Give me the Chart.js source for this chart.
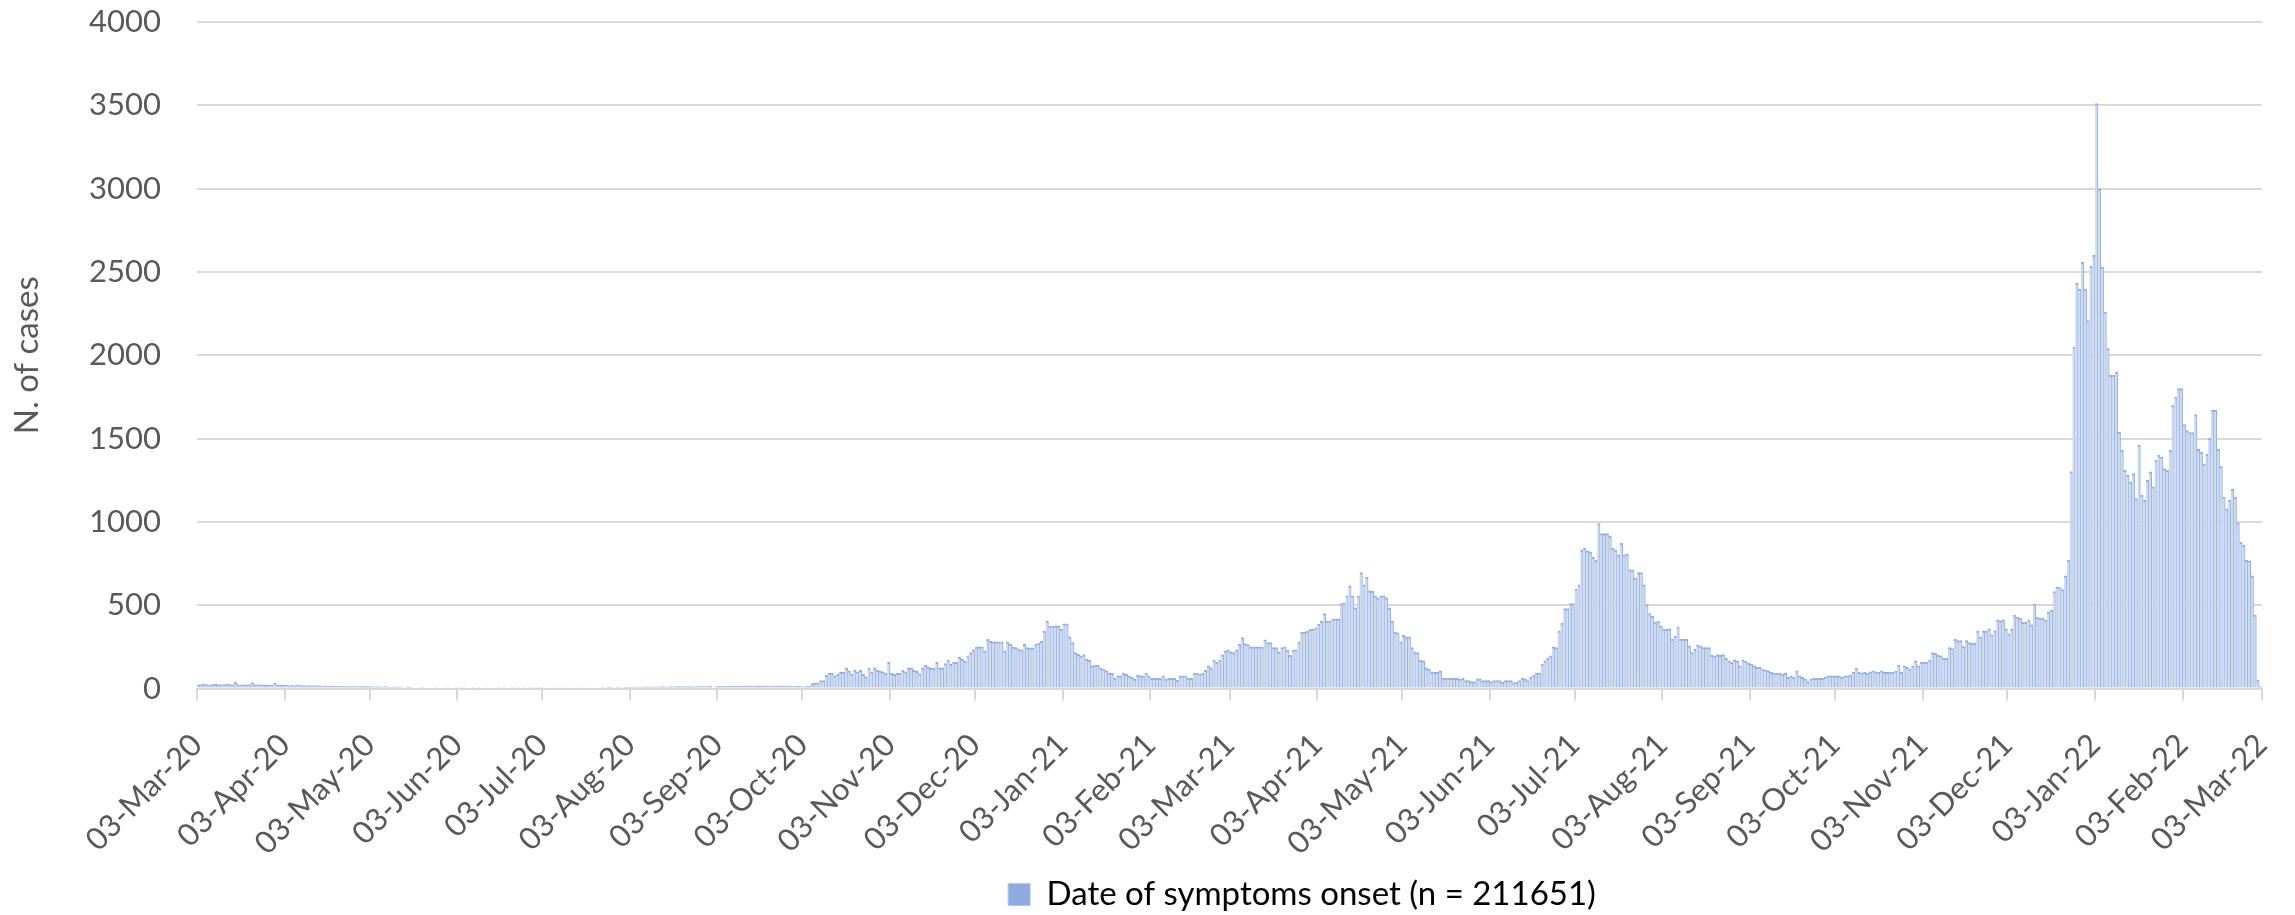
<!DOCTYPE html>
<html>
<head>
<meta charset="utf-8">
<title>Date of symptoms onset</title>
<script src="https://cdn.jsdelivr.net/npm/chart.js@4.4.1/dist/chart.umd.min.js"></script>
<style>
  html, body { margin: 0; padding: 0; background: #fff; }
  #wrap { width: 2295px; height: 915px; }
</style>
</head>
<body>
<div id="wrap"><canvas id="myChart" width="2295" height="915"></canvas></div>
<script>
// first day of the series (03-Mar-20)
const startDate = Date.UTC(2020, 2, 3);
const seriesLabel = 'Date of symptoms onset (n = 211651)';
const monthNames = ['Jan', 'Feb', 'Mar', 'Apr', 'May', 'Jun', 'Jul', 'Aug', 'Sep', 'Oct', 'Nov', 'Dec'];

// daily cases, one row per month (from the 3rd to the 2nd of next month)
const cases2020 = [
  22, 24, 25, 24, 22, 24, 25, 24, 22, 24, 25, 24, 22, 38, 24, 22, 24, 22, 24, 36, 22, 24, 22, 20, 22, 20, 22, 34, 20, 22, 20, // Mar
  20, 18, 20, 18, 20, 18, 18, 16, 18, 16, 18, 16, 16, 15, 16, 14, 16, 14, 15, 14, 14, 12, 14, 12, 14, 12, 12, 14, 12, 12, // Apr
  12, 10, 12, 10, 10, 12, 10, 8, 10, 8, 10, 8, 0, 10, 8, 6, 0, 6, 8, 6, 6, 0, 6, 4, 6, 0, 6, 4, 6, 0, 5, // May
  4, 0, 3, 0, 0, 4, 0, 2, 0, 0, 3, 0, 0, 0, 4, 0, 3, 0, 0, 4, 0, 4, 0, 3, 0, 4, 3, 0, 4, 3, // Jun
  6, 5, 6, 5, 6, 5, 6, 5, 6, 5, 6, 6, 5, 6, 5, 6, 6, 5, 6, 6, 6, 8, 6, 8, 8, 6, 8, 8, 6, 8, 8, // Jul
  8, 10, 8, 10, 8, 10, 10, 8, 10, 10, 10, 12, 10, 10, 12, 10, 12, 12, 10, 12, 12, 12, 10, 12, 12, 14, 12, 12, 14, 0, 12, // Aug
  14, 14, 12, 14, 14, 16, 14, 14, 16, 14, 16, 16, 14, 16, 16, 14, 16, 16, 14, 16, 14, 16, 16, 14, 16, 14, 12, 14, 14, 12, // Sep
  10, 14, 14, 30, 34, 34, 48, 48, 80, 93, 93, 77, 85, 97, 97, 125, 107, 87, 111, 101, 109, 85, 71, 125, 101, 125, 111, 105, 101, 91, 157, // Oct
  91, 85, 91, 91, 111, 101, 125, 125, 109, 103, 89, 125, 141, 130, 121, 121, 157, 125, 125, 150, 171, 145, 157, 157, 187, 175, 165, 196, 216, 232, // Nov
  248, 250, 250, 226, 296, 284, 280, 280, 280, 280, 226, 280, 266, 250, 246, 236, 232, 266, 246, 244, 244, 266, 272, 284, 343, 405, 375, 375, 375, 375, 355 // Dec
];
const cases2021 = [
  389, 389, 310, 276, 216, 206, 196, 202, 176, 171, 137, 141, 141, 121, 115, 107, 93, 93, 62, 77, 77, 93, 85, 77, 67, 57, 81, 77, 77, 93, 77, // Jan
  62, 62, 62, 62, 77, 57, 62, 62, 62, 50, 77, 77, 77, 62, 62, 93, 93, 87, 93, 109, 137, 125, 171, 157, 171, 202, 226, 232, // Feb
  220, 216, 232, 266, 306, 270, 264, 250, 250, 250, 250, 250, 292, 276, 276, 246, 246, 220, 246, 250, 230, 200, 232, 232, 280, 339, 339, 343, 355, 355, 365, // Mar
  387, 405, 450, 405, 405, 415, 419, 419, 510, 514, 557, 617, 557, 484, 557, 696, 623, 669, 587, 583, 557, 544, 557, 557, 544, 484, 405, 339, 335, 280, // Apr
  319, 311, 311, 246, 220, 216, 171, 167, 125, 117, 101, 97, 97, 107, 63, 62, 62, 62, 62, 62, 57, 62, 48, 48, 42, 42, 58, 58, 48, 48, 48, // May
  42, 48, 48, 48, 38, 48, 48, 48, 34, 38, 48, 62, 58, 48, 67, 81, 93, 93, 147, 167, 181, 196, 250, 246, 345, 391, 480, 480, 510, 510, // Jun
  597, 623, 831, 841, 827, 821, 788, 770, 990, 930, 930, 930, 915, 841, 831, 802, 871, 802, 808, 712, 712, 663, 696, 696, 623, 504, 450, 434, 399, 405, 375, // Jul
  359, 355, 359, 296, 315, 371, 296, 296, 296, 256, 216, 236, 262, 256, 246, 246, 246, 200, 196, 204, 200, 204, 181, 167, 157, 173, 167, 137, 173, 163, 153, // Aug
  147, 137, 127, 127, 117, 113, 107, 97, 93, 93, 93, 87, 93, 67, 77, 67, 107, 77, 67, 58, 42, 58, 62, 62, 62, 62, 67, 77, 77, 77, // Sep
  77, 77, 67, 77, 77, 81, 97, 121, 97, 93, 97, 93, 101, 107, 101, 97, 107, 97, 97, 97, 97, 107, 141, 97, 137, 127, 117, 137, 167, 137, 157, // Oct
  157, 157, 173, 216, 212, 200, 196, 181, 181, 246, 240, 296, 288, 288, 252, 288, 276, 271, 271, 347, 311, 347, 347, 358, 323, 347, 413, 406, 413, 358, // Nov
  328, 358, 441, 429, 422, 398, 398, 413, 382, 507, 429, 422, 422, 413, 460, 469, 582, 611, 606, 594, 677, 771, 1302, 2049, 2433, 2398, 2558, 2398, 2209, 2535, 2600 // Dec
];
const cases2022 = [
  3510, 3000, 2530, 2260, 2040, 1880, 1880, 1900, 1540, 1430, 1310, 1280, 1240, 1290, 1140, 1460, 1160, 1130, 1250, 1300, 1210, 1370, 1400, 1390, 1320, 1310, 1430, 1700, 1750, 1800, 1800, // Jan
  1585, 1549, 1537, 1537, 1644, 1436, 1420, 1349, 1408, 1502, 1672, 1672, 1436, 1332, 1148, 1078, 1130, 1195, 1148, 995, 877, 861, 771, 766, 677, 441, 52, 12 // Feb
];
const cases = [...cases2020, ...cases2021, ...cases2022];

const tickLabels = [
  '03-Mar-20', '03-Apr-20', '03-May-20', '03-Jun-20', '03-Jul-20', '03-Aug-20', '03-Sep-20',
  '03-Oct-20', '03-Nov-20', '03-Dec-20', '03-Jan-21', '03-Feb-21', '03-Mar-21', '03-Apr-21',
  '03-May-21', '03-Jun-21', '03-Jul-21', '03-Aug-21', '03-Sep-21', '03-Oct-21', '03-Nov-21',
  '03-Dec-21', '03-Jan-22', '03-Feb-22', '03-Mar-22'
];
const yMax = 4000;
const yStep = 500;

// day offset of a '03-Mar-20' style label from the start date
function labelToDay(lbl) {
  const [dd, mon, yy] = lbl.split('-');
  return Math.round((Date.UTC(2000 + Number(yy), monthNames.indexOf(mon), Number(dd)) - startDate) / 86400000);
}
const tickDays = tickLabels.map(labelToDay);

const textColor = '#595959';
const gridColor = '#d9d9d9';
const tickFont = { family: 'Lato', size: 31 };
const bigFont = { family: 'Lato', size: 33 };

// moves the legend right and a bit down, like in the original
const legendShift = {
  id: 'legendShift',
  afterLayout(chart) {
    const lg = chart.legend;
    lg.left += 167;
    lg.right += 167;
    lg.top += 6;
    lg.bottom += 6;
  }
};

const ctx = document.getElementById('myChart').getContext('2d');
const myChart = new Chart(ctx, {
  type: 'bar',
  data: {
    datasets: [{
      label: seriesLabel,
      data: cases.map((v, i) => ({ x: i + 0.5, y: v })),
      backgroundColor: '#cfdbf1',
      borderColor: '#97afdf',
      borderWidth: { top: 2, right: 1, left: 0, bottom: 0 },
      barPercentage: 1,
      categoryPercentage: 1
    }]
  },
  options: {
    responsive: false,
    devicePixelRatio: 1,
    animation: false,
    layout: { padding: { left: 8, right: 33, top: 4, bottom: 0 } },
    plugins: {
      tooltip: { enabled: false },
      legend: {
        position: 'bottom',
        labels: {
          color: textColor,
          font: bigFont,
          boxWidth: 22,
          boxHeight: 22,
          padding: 0,
          generateLabels: () => [{
            text: seriesLabel,
            fillStyle: '#8faadc',
            strokeStyle: '#b4c7e7',
            lineWidth: 1,
            datasetIndex: 0
          }]
        }
      }
    },
    scales: {
      x: {
        type: 'linear',
        min: 0,
        max: cases.length,
        offset: false,
        // the rotated last label may hang over the right edge, like the original
        afterFit: scale => {
          scale.paddingRight = 0;
          scale.height -= 16;
        },
        grid: { offset: false, drawOnChartArea: false, drawTicks: true, tickLength: 12, color: gridColor, lineWidth: 2 },
        border: { color: gridColor, width: 2 },
        afterBuildTicks: scale => { scale.ticks = tickDays.map(v => ({ value: v })); },
        ticks: {
          autoSkip: false,
          minRotation: 45,
          maxRotation: 45,
          padding: 26,
          color: textColor,
          font: tickFont,
          callback: (v, i) => tickLabels[i]
        }
      },
      y: {
        min: 0,
        max: yMax,
        // fixed axis width so the plot starts where the original does
        afterFit: scale => {
          scale.width = 189;
          scale.paddingTop = 22;
          scale.paddingBottom = 0;
        },
        ticks: { stepSize: yStep, padding: 36, color: textColor, font: tickFont, callback: v => String(v) },
        grid: { color: gridColor, lineWidth: 2, drawTicks: false },
        border: { display: false },
        title: { display: true, text: 'N. of cases', color: textColor, font: bigFont, padding: { top: 0, bottom: 40 } }
      }
    }
  },
  plugins: [legendShift]
});
</script>
</body>
</html>
